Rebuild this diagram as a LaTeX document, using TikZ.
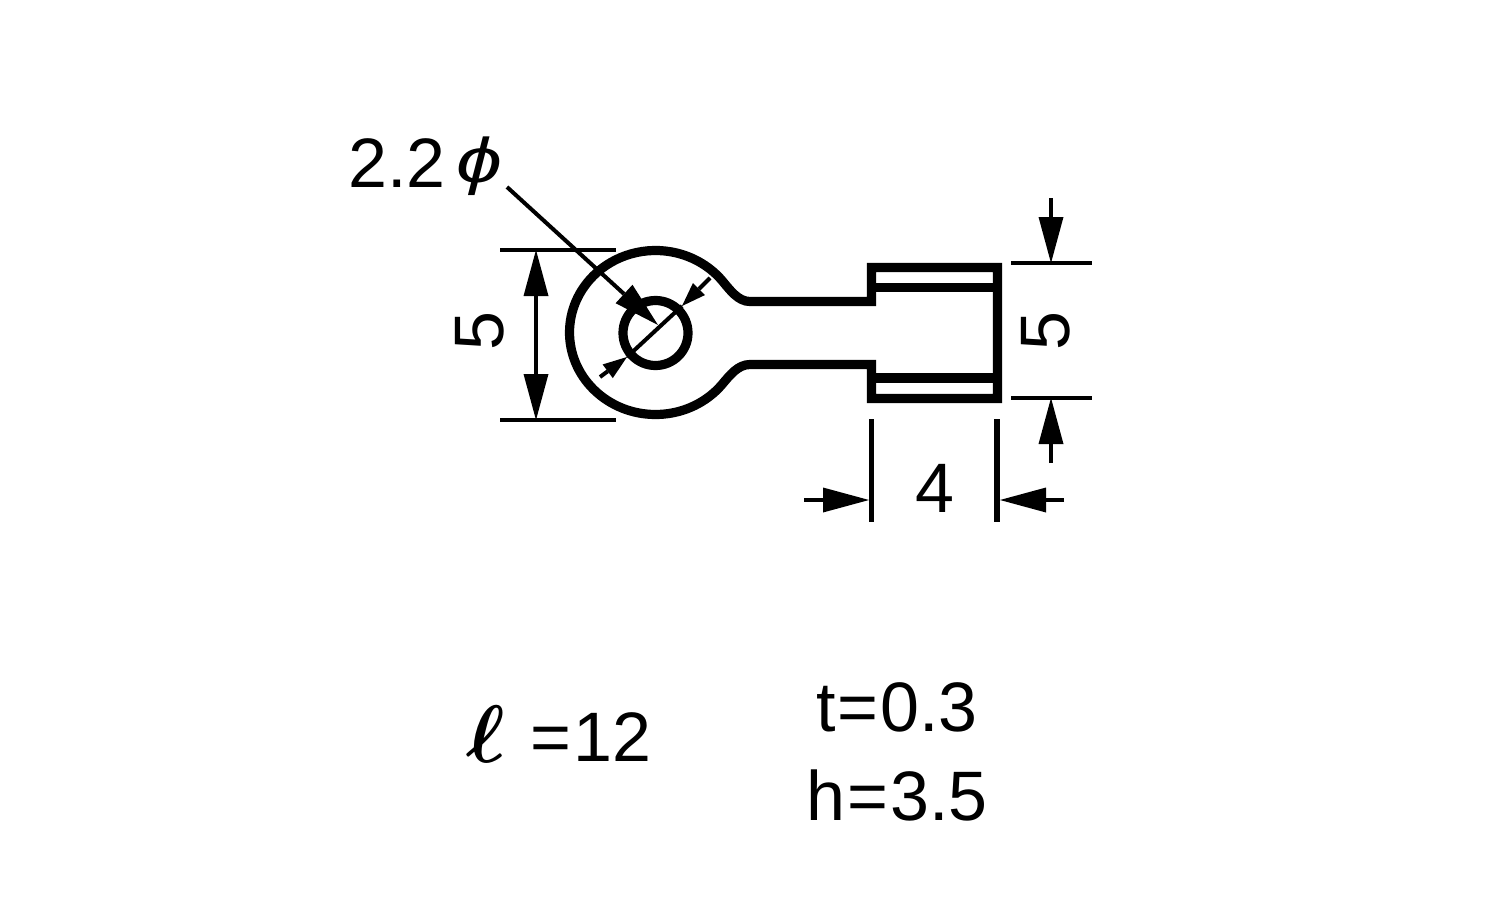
\documentclass[tikz,border=0pt]{standalone}
\usepackage{fontspec}
\setmainfont{Liberation Sans}
\usetikzlibrary{arrows.meta}
\tikzset{
 outline/.style={line width=4.6pt,miter limit=10},
 dimline/.style={line width=2pt},
 extline/.style={line width=2.6pt},
 bighead/.style={-{Triangle[length=23pt,width=12.5pt,line width=0pt]},line width=2pt},
 smallhead/.style={-{Triangle[length=12pt,width=8.5pt,line width=0pt]},line width=2pt},
 txt/.style={inner sep=0pt,outer sep=0pt,font=\fontsize{35}{35}\selectfont,anchor=base}
}
\begin{document}
\begin{tikzpicture}[x=0.5pt,y=-0.5pt]
\useasboundingbox (0,0) rectangle (1500,900);
% terminal outline
\draw[outline] (750,301.5) -- (871.5,301.5) -- (871.5,267.5) -- (997.5,267.5) -- (997.5,398.5)
  -- (871.5,398.5) -- (871.5,364.5) -- (750,364.5)
  .. controls (738,364.5) and (730,375) .. (721.4,385.2)
  arc[start angle=320,end angle=40,x radius=43pt,y radius=41pt]
  .. controls (730,290) and (738,301.5) .. (750,301.5) -- cycle;
\draw[outline] (871.5,287.5) -- (997.5,287.5);
\draw[outline] (871.5,378) -- (997.5,378);
\coordinate (hole) at (655.5,333);
\draw[outline] (hole) circle[radius=16.25pt];
% left dimension
\coordinate (la) at (500,250); \coordinate (lb) at (616,250);
\coordinate (lc) at (500,420); \coordinate (ld) at (616,420);
\coordinate (lt) at (536,250); \coordinate (lu) at (536,420);
\draw[dimline] (la) -- (lb); \draw[dimline] (lc) -- (ld);
\draw[dimline,{Triangle[length=23pt,width=12.5pt,line width=0pt]}-{Triangle[length=23pt,width=12.5pt,line width=0pt]}] (lt) -- (lu);
\node[txt,rotate=90,anchor=base] (fiveL) at (503,331) {5};
% hole dimension
\node[txt] (dia) at (397,187) {2.2};
\node[txt,anchor=base west] (phi) at (456,182) {\scalebox{1.18}[0.9]{\itshape ϕ}};
\coordinate (ldr) at (507,187); \coordinate (ldrtip) at (658,325);
\draw[bighead] (ldr) -- (ldrtip);
\coordinate (da) at (600,377); \coordinate (db) at (627,357);
\coordinate (dc) at (710,278); \coordinate (dd) at (682,306);
\draw[dimline] (db) -- (dd);
\draw[smallhead] (da) -- (db);
\draw[smallhead] (dc) -- (dd);
% right dimension
\coordinate (ra) at (1011,263); \coordinate (rb) at (1092,263);
\coordinate (rc) at (1011,398); \coordinate (rd) at (1092,398);
\draw[dimline] (ra) -- (rb); \draw[dimline] (rc) -- (rd);
\coordinate (rt) at (1051,198); \coordinate (rtt) at (1051,263);
\coordinate (ru) at (1051,463); \coordinate (ruu) at (1051,398);
\draw[bighead] (rt) -- (rtt);
\draw[bighead] (ru) -- (ruu);
\node[txt,rotate=90,anchor=base] (fiveR) at (1069,331) {5};
% bottom dimension
\coordinate (va) at (871.5,419); \coordinate (vb) at (871.5,522);
\coordinate (vc) at (997,419); \coordinate (vd) at (997,522);
\draw[extline] (va) -- (vb); \draw[extline] (vc) -- (vd);
\coordinate (ha) at (804,500); \coordinate (hb) at (869,500);
\coordinate (hc) at (1064,500); \coordinate (hd) at (1000,500);
\draw[bighead] (ha) -- (hb);
\draw[bighead] (hc) -- (hd);
\node[txt] (four) at (935,512) {4};
% notes
\node[txt,anchor=base west] (ell) at (466,762) {\scalebox{1.64}{\boldmath$\ell$}};
\node[txt] (twelve) at (591,761) {=\kern1pt 12};
\node[txt] (tval) at (897,731) {t\kern1pt=\kern1pt 0.3};
\node[txt] (hval) at (897,820) {h\kern1pt=\kern1pt 3.5};
\end{tikzpicture}
\end{document}
